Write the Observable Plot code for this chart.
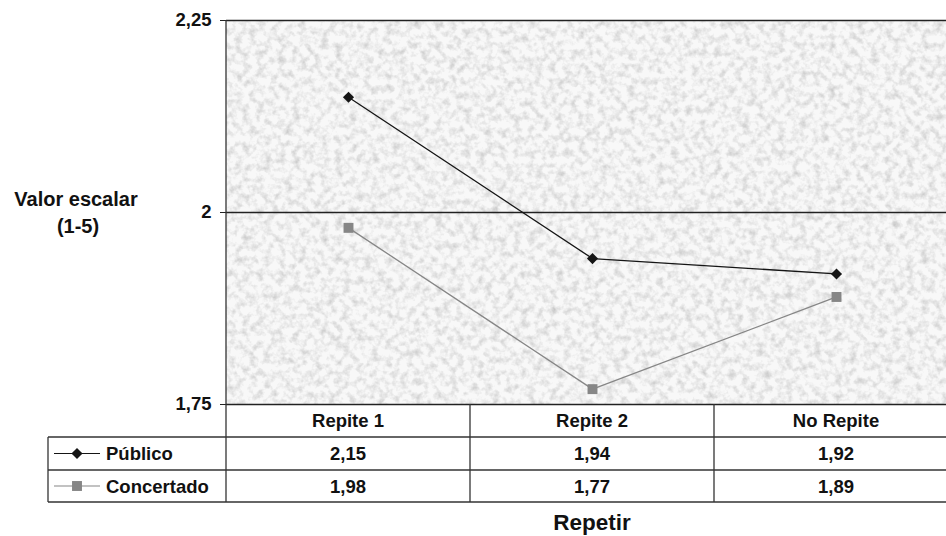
<!DOCTYPE html>
<html>
<head>
<meta charset="utf-8">
<script src="https://cdn.jsdelivr.net/npm/d3@7"></script>
<script src="https://cdn.jsdelivr.net/npm/@observablehq/plot@0.6"></script>
<style>
  html, body { margin: 0; padding: 0; background: #fff; overflow: hidden; }
  #chart { width: 946px; height: 536px; }
</style>
</head>
<body>
<div id="chart"></div>
<script>
// Scale values by repetition status, for two school types
const categories = ["Repite 1", "Repite 2", "No Repite"];
const publico = [2.15, 1.94, 1.92];
const concertado = [1.98, 1.77, 1.89];
const yTicks = [1.75, 2, 2.25];
const seriesNames = ["Público", "Concertado"];
const yTitle = ["Valor escalar", "(1-5)"];
const xTitle = "Repetir";

const fmt = v => String(v).replace(".", ",");
const FONT = "'Liberation Sans', Arial, Helvetica, sans-serif";

const rows = [
  ...categories.map((c, i) => ({serie: seriesNames[0], cat: c, value: publico[i]})),
  ...categories.map((c, i) => ({serie: seriesNames[1], cat: c, value: concertado[i]}))
];
const pub = rows.filter(d => d.serie === seriesNames[0]);
const con = rows.filter(d => d.serie === seriesNames[1]);

const styleOf = {
  [seriesNames[0]]: {color: "#151515", symbol: "diamond2", r: 5},
  [seriesNames[1]]: {color: "#868686", symbol: "square", r: 5.6}
};

const plot = Plot.plot({
  width: 946,
  height: 536,
  marginLeft: 226,
  marginRight: 0,
  marginTop: 20,
  marginBottom: 132,
  style: {fontFamily: FONT, fontSize: "18.5px", fontWeight: "bold", color: "#111", background: "transparent"},
  x: {type: "band", domain: categories, range: [226, 958], padding: 0, axis: null},
  y: {domain: [1.75, 2.25], label: null},
  marks: [
    Plot.axisY(yTicks, {
      tickFormat: fmt, tickSize: 6, tickPadding: 9,
      fontSize: 18.5, fontWeight: "bold", fill: "#111", stroke: "#222", label: null
    }),
    Plot.ruleY(yTicks, {stroke: "#222", strokeWidth: 1.3}),
    Plot.line(con, {x: "cat", y: "value", stroke: styleOf[seriesNames[1]].color, strokeWidth: 1.3}),
    Plot.line(pub, {x: "cat", y: "value", stroke: styleOf[seriesNames[0]].color, strokeWidth: 1.3}),
    Plot.dot(con, {x: "cat", y: "value", symbol: "square", r: styleOf[seriesNames[1]].r, fill: styleOf[seriesNames[1]].color, stroke: "none"}),
    Plot.dot(pub, {x: "cat", y: "value", symbol: "diamond2", r: styleOf[seriesNames[0]].r, fill: styleOf[seriesNames[0]].color, stroke: "none"})
  ]
});

document.getElementById("chart").appendChild(plot);

const svg = d3.select(plot).attr("overflow", "visible");
// the only text Plot draws here is the y tick labels: give them the table's type size
svg.selectAll("text")
  .style("font-size", "18.5px").style("font-weight", "bold").style("font-family", FONT);

const x = plot.scale("x");
const y = plot.scale("y");
const bw = x.bandwidth;
const xStart = c => x.apply(c);
const xMid = c => x.apply(c) + bw / 2;

const areaLeft = xStart(categories[0]);
const areaRight = xStart(categories[categories.length - 1]) + bw;
const areaTop = y.apply(2.25);
const areaBottom = y.apply(1.75);

// Grainy paper texture behind the plotting area
const defs = svg.insert("defs", ":first-child");
const filt = defs.append("filter").attr("id", "grain")
  .attr("filterUnits", "userSpaceOnUse")
  .attr("x", areaLeft).attr("y", areaTop)
  .attr("width", areaRight - areaLeft).attr("height", areaBottom - areaTop)
  .attr("color-interpolation-filters", "sRGB");
filt.append("feTurbulence").attr("type", "fractalNoise")
  .attr("baseFrequency", 0.14).attr("numOctaves", 3).attr("seed", 7).attr("result", "n");
filt.append("feColorMatrix").attr("type", "matrix").attr("in", "n").attr("result", "g")
  .attr("values", "0 0 0 0 0.58  0 0 0 0 0.58  0 0 0 0 0.58  0.9 0 0 0 -0.38");
filt.append("feFlood").attr("flood-color", "#f8f8f8").attr("result", "bg");
filt.append("feComposite").attr("in", "g").attr("in2", "bg").attr("operator", "over");

svg.insert("rect", "g")
  .attr("x", areaLeft).attr("y", areaTop)
  .attr("width", areaRight - areaLeft).attr("height", areaBottom - areaTop)
  .attr("fill", "#efefef")
  .attr("filter", "url(#grain)");

// Data table under the plotting area
const rowH = 33;
const rowY = [areaBottom, areaBottom + rowH, areaBottom + 2 * rowH, areaBottom + 3 * rowH - 1];
const legendLeft = 48;

const grid = svg.append("g").attr("stroke", "#333").attr("stroke-width", 1.3).attr("fill", "none");
// left border of the plotting area continuing through the table
grid.append("line").attr("x1", areaLeft).attr("x2", areaLeft).attr("y1", areaTop).attr("y2", rowY[3]);
grid.append("line").attr("x1", legendLeft).attr("x2", legendLeft).attr("y1", rowY[1]).attr("y2", rowY[3]);
categories.slice(1).forEach(c => {
  grid.append("line").attr("x1", xStart(c)).attr("x2", xStart(c)).attr("y1", rowY[0]).attr("y2", rowY[3]);
});
[1, 2, 3].forEach(i => {
  grid.append("line").attr("x1", legendLeft).attr("x2", areaRight).attr("y1", rowY[i]).attr("y2", rowY[i]);
});

const txt = svg.append("g")
  .attr("font-family", FONT).attr("font-weight", "bold").attr("font-size", 18.5)
  .attr("fill", "#111").attr("text-anchor", "middle");

categories.forEach(c => {
  txt.append("text").attr("x", xMid(c)).attr("y", (rowY[0] + rowY[1]) / 2).attr("dy", "0.36em").text(c);
});
[pub, con].forEach((series, k) => {
  const cy = (rowY[k + 1] + rowY[k + 2]) / 2;
  series.forEach(d => {
    txt.append("text").attr("x", xMid(d.cat)).attr("y", cy).attr("dy", "0.36em").text(fmt(d.value));
  });
  const s = styleOf[seriesNames[k]];
  const key = svg.append("g");
  key.append("line").attr("x1", 54).attr("x2", 100).attr("y1", cy).attr("y2", cy)
    .attr("stroke", s.color).attr("stroke-width", 1.2);
  const sym = s.symbol === "square" ? d3.symbolSquare : d3.symbolDiamond2;
  key.append("path").attr("transform", `translate(77,${cy})`)
    .attr("d", d3.symbol(sym, s.r * s.r * Math.PI)()).attr("fill", s.color);
  txt.append("text").attr("x", 106).attr("y", cy).attr("dy", "0.36em")
    .attr("text-anchor", "start").text(seriesNames[k]);
});

// Axis titles
const ty = svg.append("text").attr("font-family", FONT).attr("font-weight", "bold")
  .attr("font-size", 20).attr("fill", "#111").attr("text-anchor", "middle");
ty.append("tspan").attr("x", 76).attr("y", 206).text(yTitle[0]);
ty.append("tspan").attr("x", 78).attr("y", 233).text(yTitle[1]);

svg.append("text").attr("font-family", FONT).attr("font-weight", "bold")
  .attr("font-size", 22.5).attr("fill", "#111").attr("text-anchor", "middle")
  .attr("x", xMid(categories[1])).attr("y", 530).text(xTitle);
</script>
</body>
</html>
